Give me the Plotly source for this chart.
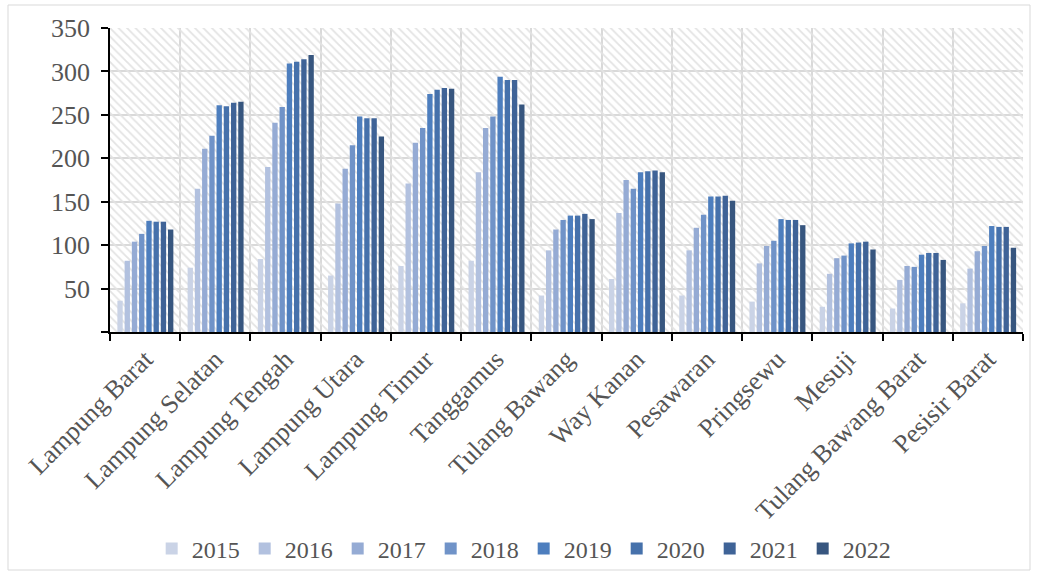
import plotly.graph_objects as go

categories = ["Lampung Barat", "Lampung Selatan", "Lampung Tengah", "Lampung Utara",
              "Lampung Timur", "Tanggamus", "Tulang Bawang", "Way Kanan", "Pesawaran",
              "Pringsewu", "Mesuji", "Tulang Bawang Barat", "Pesisir Barat"]
years = ["2015", "2016", "2017", "2018", "2019", "2020", "2021", "2022"]

v2015 = [36, 74, 84, 65, 76, 82, 42, 61, 42, 35, 29, 27, 33]
v2016 = [82, 165, 190, 148, 171, 184, 94, 137, 94, 79, 67, 60, 73]
v2017 = [104, 211, 241, 188, 218, 235, 118, 175, 120, 99, 85, 76, 93]
v2018 = [113, 226, 259, 215, 235, 248, 129, 165, 135, 105, 88, 75, 99]
v2019 = [128, 261, 309, 248, 274, 294, 134, 184, 156, 130, 102, 89, 122]
v2020 = [127, 260, 311, 246, 279, 290, 134, 185, 156, 129, 103, 91, 121]
v2021 = [127, 264, 314, 246, 281, 290, 136, 186, 157, 129, 104, 91, 121]
v2022 = [118, 265, 319, 225, 280, 262, 130, 184, 151, 123, 95, 83, 97]
series = [v2015, v2016, v2017, v2018, v2019, v2020, v2021, v2022]

colors = ["#CAD3E6", "#B2C1DF", "#95ABD4", "#7093C8", "#4D7EBE", "#4671AB", "#3F6397", "#37567F"]
y_ticks = [0, 50, 100, 150, 200, 250, 300, 350]
y_labels = ["", "50", "100", "150", "200", "250", "300", "350"]

font_family = "Liberation Serif"
text_color = "#555555"
fsize = 26

fig = go.Figure()

# hatched plot-area background
fig.add_trace(go.Bar(
    x=[categories[0]], y=[y_ticks[-1]], width=[len(categories)], offset=-0.5,
    marker=dict(color="#e3e3e3", line=dict(width=0),
                pattern=dict(shape="\\", size=6, solidity=0.3, fillmode="replace")),
    showlegend=False, hoverinfo="skip"))

pitch = 0.103
bw = 0.076
for i, (yr, vals) in enumerate(zip(years, series)):
    fig.add_trace(go.Bar(
        x=categories, y=vals, name=yr, width=bw, offset=-0.395 + i * pitch,
        marker=dict(color=colors[i], line=dict(width=0))))

W, H = 1037, 573
L, R, T, B = 110, 14, 28, 241
pw, ph = W - L - R, H - T - B

fig.update_layout(
    width=W, height=H, barmode="overlay",
    margin=dict(l=L, r=R, t=T, b=B, autoexpand=False),
    paper_bgcolor="white", plot_bgcolor="white",
    font=dict(family=font_family, size=fsize, color=text_color),
    legend=dict(orientation="h", xref="container", yref="container",
                x=0.505, y=0.042, xanchor="center", yanchor="middle",
                font=dict(size=24, color=text_color), itemwidth=30,
                traceorder="normal", bgcolor="rgba(0,0,0,0)"),
    xaxis=dict(type="category", range=[-0.5, len(categories) - 0.5],
               automargin=False,
               tickangle=-45, tickson="boundaries", ticks="outside", ticklen=7,
               tickcolor="black", tickwidth=1.5,
               showline=True, linecolor="black", linewidth=1.5,
               showgrid=True, gridcolor="#d9d9d9", gridwidth=2),
    yaxis=dict(range=[0, 350], tickvals=y_ticks, ticktext=y_labels,
               automargin=False,
               ticks="outside", ticklen=7, tickcolor="black", tickwidth=1.5,
               ticklabelstandoff=6,
               showline=True, linecolor="black", linewidth=1.5,
               showgrid=True, gridcolor="#d9d9d9", gridwidth=2, zeroline=False),
    shapes=[dict(type="rect", xref="paper", yref="paper",
                 x0=(8 - L) / pw, x1=(1030 - L) / pw,
                 y0=(H - B - 570) / ph, y1=(H - B - 5) / ph,
                 line=dict(color="#d9d9d9", width=1), fillcolor="rgba(0,0,0,0)",
                 layer="below")],
)

fig.write_html("out.html")
